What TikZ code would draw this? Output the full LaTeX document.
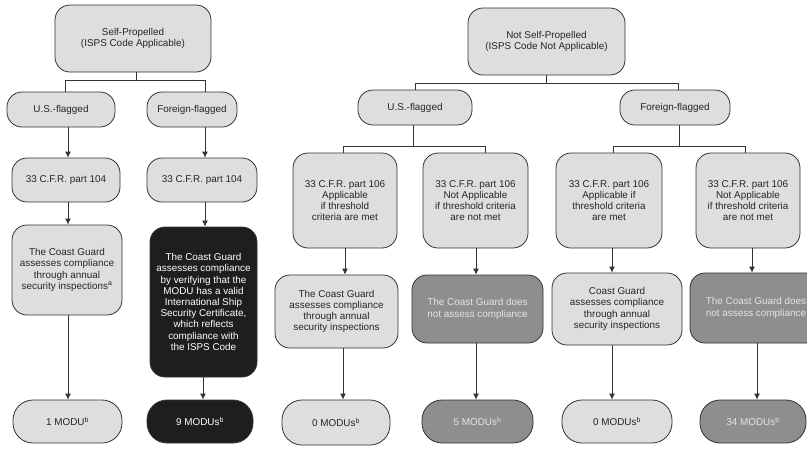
\documentclass[tikz,border=0pt]{standalone}
\usepackage{fontspec}
\setmainfont{Liberation Sans}
\usetikzlibrary{arrows.meta}
\definecolor{lightbox}{HTML}{DEDEDE}
\definecolor{darkbox}{HTML}{8E8E8E}
\definecolor{blackbox}{HTML}{1E1E1E}
\definecolor{edge}{HTML}{333333}
\definecolor{paletext}{HTML}{E4E4E4}
\tikzset{
  box/.style={draw=edge, line width=0.8pt, rounded corners=15pt, align=center,
    inner sep=1pt, font=\fontsize{9.9}{11.2}\selectfont, text=black!85},
  lbox/.style={box, fill=lightbox},
  dbox/.style={box, fill=darkbox, text=paletext},
  kbox/.style={box, fill=blackbox, text=white},
  pill/.style={rounded corners=20pt},
  ln/.style={draw=edge, line width=0.9pt},
  arr/.style={ln, -{Latex[length=6pt,width=6pt]}},
}
\newcommand{\bx}[7]{\node[#1, minimum width=#5pt, minimum height=#6pt] (#2) at (#3,#4) {#7};}
\begin{document}
\begin{tikzpicture}[x=1pt,y=-1pt]
\useasboundingbox (0,0) rectangle (807,448);
\fill[white] (0,0) rectangle (807,448);
\clip (0,0) rectangle (807,448);
% left tree
\bx{lbox}{sp}{133}{38.5}{156}{67}{Self-Propelled\\(ISPS Code Applicable)}
\bx{lbox}{us1}{61}{109.5}{108}{35}{U.S.-flagged}
\bx{lbox}{ff1}{192}{109.5}{90}{35}{Foreign-flagged}
\bx{lbox}{cfr1}{66}{180}{108}{44}{33 C.F.R. part 104}
\bx{lbox}{cfr2}{202}{180}{110}{44}{33 C.F.R. part 104}
\bx{lbox}{cg1}{67}{270}{110}{90}{The Coast Guard\\assesses compliance\\through annual\\security inspections\textsuperscript{a}}
\bx{kbox}{cg2}{203.5}{302}{107}{150}{The Coast Guard\\assesses compliance\\by verifying that the\\MODU has a valid\\International Ship\\Security Certificate,\\which reflects\\compliance with\\the ISPS Code}
\bx{lbox,pill}{m1}{67.5}{421.5}{109}{43}{1 MODU\textsuperscript{b}}
\bx{kbox,pill}{m2}{200}{421.5}{106}{43}{9 MODUs\textsuperscript{b}}
% right tree
\bx{lbox}{nsp}{546.5}{41.5}{157}{67}{Not Self-Propelled\\(ISPS Code Not Applicable)}
\bx{lbox}{us2}{415}{107.5}{114}{35}{U.S.-flagged}
\bx{lbox}{ff2}{675}{107.5}{110}{35}{Foreign-flagged}
\bx{lbox}{ca}{345}{200.5}{104}{95}{33 C.F.R. part 106\\Applicable\\if threshold\\criteria are met}
\bx{lbox}{cb}{475.5}{200.5}{105}{95}{33 C.F.R. part 106\\Not Applicable\\if threshold criteria\\are not met}
\bx{lbox}{cc}{609}{200.5}{106}{95}{33 C.F.R. part 106\\Applicable if\\threshold criteria\\are met}
\bx{lbox}{cd}{748}{200.5}{104}{95}{33 C.F.R. part 106\\Not Applicable\\if threshold criteria\\are not met}
\bx{lbox}{cg3}{336.5}{311.5}{123}{73}{The Coast Guard\\assesses compliance\\through annual\\security inspections}
\bx{dbox}{cg4}{477.5}{309}{131}{68}{The Coast Guard does\\not assess compliance}
\bx{lbox}{cg5}{617}{309}{130}{72}{Coast Guard\\assesses compliance\\through annual\\security inspections}
\bx{dbox}{cg6}{756}{308}{132}{70}{The Coast Guard does\\not assess compliance}
\bx{lbox,pill}{m3}{336}{422.5}{108}{45}{0 MODUs\textsuperscript{b}}
\bx{dbox,pill}{m4}{477.5}{421.5}{111}{43}{5 MODUs\textsuperscript{b}}
\bx{lbox,pill}{m5}{617}{421.5}{110}{43}{0 MODUs\textsuperscript{b}}
\bx{dbox,pill}{m6}{753}{421.5}{106}{43}{34 MODUs\textsuperscript{b}}
% junction coordinates
\coordinate (j1) at (136,80);
\coordinate (j1a) at (65,80);
\coordinate (j1b) at (205,80);
\coordinate (j2) at (546,83);
\coordinate (j2a) at (415,83);
\coordinate (j2b) at (678,83);
\coordinate (j3) at (413,146);
\coordinate (j3a) at (343,146);
\coordinate (j3b) at (485,146);
\coordinate (j4) at (679,146);
\coordinate (j4a) at (613,146);
\coordinate (j4b) at (745,146);
\coordinate (x1) at (68,0);
\coordinate (x2) at (205,0);
\coordinate (x2b) at (203,0);
\coordinate (x3) at (345,0);
\coordinate (x3b) at (343,0);
\coordinate (x4) at (476,0);
\coordinate (x5) at (612,0);
\coordinate (x6) at (752,0);
\coordinate (x6b) at (757,0);
% tree branches
\draw[ln] (sp.south -| j1) -- (j1);
\draw[ln] (us1.north -| j1a) -- (j1a) -- (j1b) -- (ff1.north -| j1b);
\draw[ln] (nsp.south -| j2) -- (j2);
\draw[ln] (us2.north -| j2a) -- (j2a) -- (j2b) -- (ff2.north -| j2b);
\draw[ln] (us2.south -| j3) -- (j3);
\draw[ln] (ca.north -| j3a) -- (j3a) -- (j3b) -- (cb.north -| j3b);
\draw[ln] (ff2.south -| j4) -- (j4);
\draw[ln] (cc.north -| j4a) -- (j4a) -- (j4b) -- (cd.north -| j4b);
% arrows
\draw[arr] (us1.south -| x1) -- (cfr1.north -| x1);
\draw[arr] (ff1.south -| x2) -- (cfr2.north -| x2);
\draw[arr] (cfr1.south -| x1) -- (cg1.north -| x1);
\draw[arr] (cfr2.south -| x2) -- (cg2.north -| x2);
\draw[arr] (cg1.south -| x1) -- (m1.north -| x1);
\draw[arr] (cg2.south -| x2b) -- (m2.north -| x2b);
\draw[arr] (ca.south -| x3) -- (cg3.north -| x3);
\draw[arr] (cb.south -| x4) -- (cg4.north -| x4);
\draw[arr] (cc.south -| x5) -- (cg5.north -| x5);
\draw[arr] (cd.south -| x6) -- (cg6.north -| x6);
\draw[arr] (cg3.south -| x3b) -- (m3.north -| x3b);
\draw[arr] (cg4.south -| x4) -- (m4.north -| x4);
\draw[arr] (cg5.south -| x5) -- (m5.north -| x5);
\draw[arr] (cg6.south -| x6b) -- (m6.north -| x6b);
\end{tikzpicture}
\end{document}
